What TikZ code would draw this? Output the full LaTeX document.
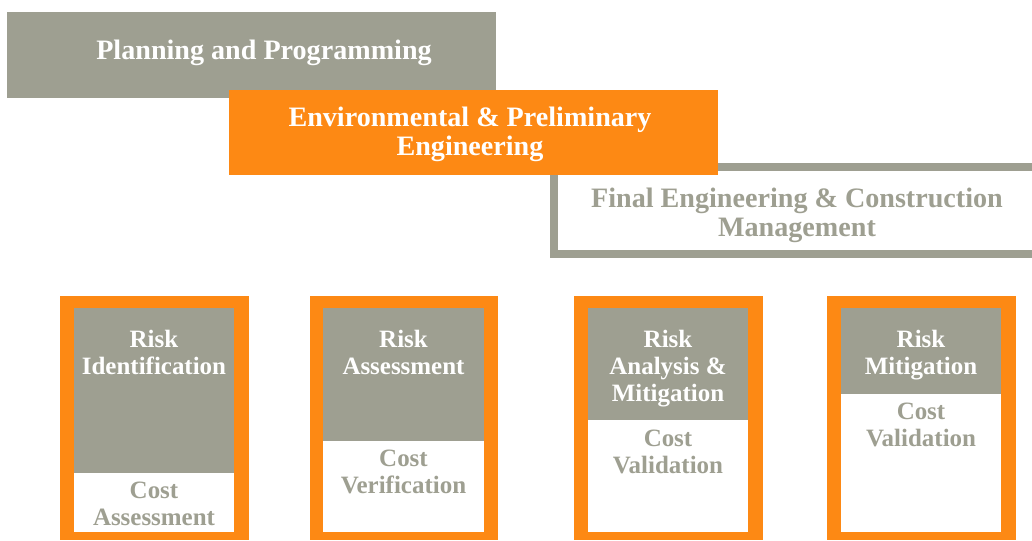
\documentclass[tikz,border=0pt]{standalone}
\usepackage{fontspec}
\setmainfont{Liberation Serif}
\usepackage{xcolor}
\definecolor{stone}{RGB}{158,159,145}
\definecolor{amber}{RGB}{253,137,20}

\begin{document}
\begin{tikzpicture}[scale=0.2]
\tikzstyle{every node}+=[inner sep=0pt, align=center]
\tikzstyle{phase}=[font=\bfseries\fontsize{16}{16.5}\selectfont]
\tikzstyle{steptext}=[font=\bfseries\fontsize{14.2}{15.3}\selectfont, anchor=north]
\useasboundingbox (0,0) rectangle (103.2,-54);
% phase bars
\fill [stone] (0.7,-1.2) rectangle (49.6,-9.8);
\node [phase, white] (plan) at (26.4,-5.3) {Planning and Programming};
\draw [stone, fill=white, line width=4.5pt] (55.4,-16.7) rectangle (103.6,-25.4);
\node [phase, stone] (final) at (79.7,-21.5) {Final Engineering \& Construction\\Management};
\fill [amber] (22.9,-9.0) rectangle (71.8,-17.5);
\node [phase, white] (env) at (47.0,-13.45) {Environmental \& Preliminary\\Engineering};
% risk boxes
\fill [amber] (6.0,-29.6) rectangle (24.9,-54);
\fill [white] (7.4,-30.8) rectangle (23.4,-53.2);
\fill [stone] (7.4,-30.8) rectangle (23.4,-47.3);
\node [steptext, white] (ident) at (15.4,-33.0) {Risk\\Identification};
\node [steptext, stone] (costA) at (15.4,-48.2) {Cost\\Assessment};
\fill [amber] (31.0,-29.6) rectangle (49.8,-54);
\fill [white] (32.3,-30.8) rectangle (48.4,-53.2);
\fill [stone] (32.3,-30.8) rectangle (48.4,-44.1);
\node [steptext, white] (assess) at (40.35,-33.0) {Risk\\Assessment};
\node [steptext, stone] (costV) at (40.35,-45.0) {Cost\\Verification};
\fill [amber] (57.4,-29.6) rectangle (76.3,-54);
\fill [white] (58.8,-30.8) rectangle (74.8,-53.2);
\fill [stone] (58.8,-30.8) rectangle (74.8,-42.0);
\node [steptext, white] (analysis) at (66.8,-33.0) {Risk\\Analysis \&\\Mitigation};
\node [steptext, stone] (costVa) at (66.8,-43.0) {Cost\\Validation};
\fill [amber] (82.7,-29.6) rectangle (101.6,-54);
\fill [white] (84.1,-30.8) rectangle (100.1,-53.2);
\fill [stone] (84.1,-30.8) rectangle (100.1,-39.4);
\node [steptext, white] (mitig) at (92.1,-33.0) {Risk\\Mitigation};
\node [steptext, stone] (costVb) at (92.1,-40.3) {Cost\\Validation};
\end{tikzpicture}
\end{document}
